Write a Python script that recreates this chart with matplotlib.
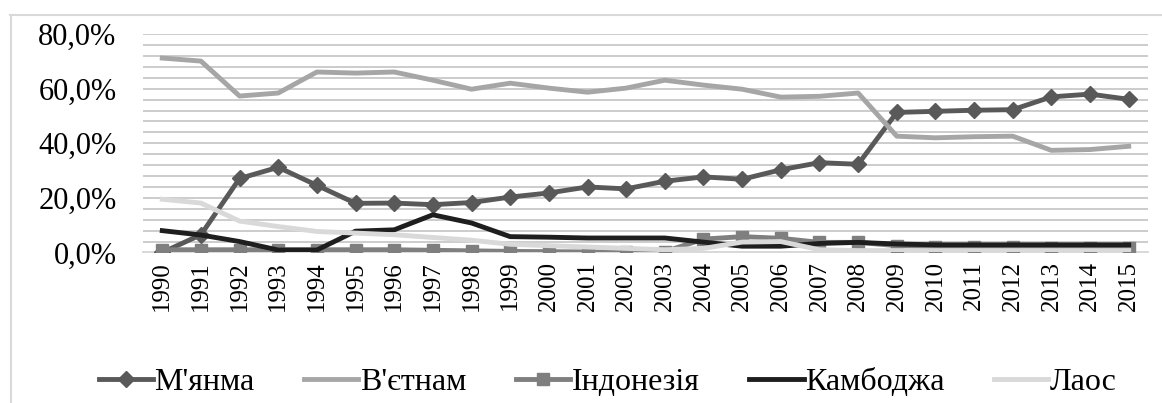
import matplotlib
matplotlib.use("Agg")
import matplotlib.pyplot as plt
from matplotlib.lines import Line2D

plt.rcParams['font.family'] = ['Liberation Serif', 'DejaVu Serif']

years = [str(y) for y in range(1990, 2016)]

# частки, %
myanmar = [0.0, 6.5, 27.1, 31.2, 24.6, 18.0, 18.1, 17.5, 18.3, 20.3, 21.8, 24.0, 23.3,
           26.1, 27.7, 26.8, 30.3, 32.9, 32.3, 51.3, 51.7, 52.1, 52.3, 57.0, 58.0, 56.1]
vietnam = [71.2, 70.1, 57.3, 58.4, 66.1, 65.7, 66.1, 63.1, 59.8, 62.0, 60.2, 58.7, 60.2,
           63.1, 61.3, 59.8, 56.9, 57.2, 58.4, 42.6, 42.0, 42.4, 42.6, 37.4, 37.7, 38.9]
indonesia = [1.0, 1.0, 1.0, 1.0, 1.0, 1.0, 1.0, 0.8, 0.6, 0.4, 0.3, 0.2, 0.2,
             0.3, 4.9, 5.8, 5.2, 3.7, 3.7, 2.5, 2.1, 2.1, 2.1, 1.5, 1.5, 1.5]
cambodia = [8.0, 6.4, 4.0, 0.9, 0.9, 7.8, 8.3, 13.8, 10.8, 5.8, 5.6, 5.3, 5.3,
            5.3, 3.8, 2.3, 2.3, 3.3, 3.7, 3.1, 2.8, 2.8, 2.8, 2.8, 2.8, 2.8]
laos = [19.5, 18.1, 11.5, 9.5, 7.7, 7.1, 6.5, 5.5, 4.5, 3.0, 2.5, 2.0, 1.5,
        1.0, 1.5, 3.8, 4.0, 1.0, 0.7, 0.7, 0.7, 0.7, 0.7, 0.7, 0.7, 0.7]

names = ["М'янма", "В'єтнам", "Індонезія", "Камбоджа", "Лаос"]

fig = plt.figure(figsize=(11.62, 4.03), dpi=100)
ax = fig.add_axes([0.123, 0.3735, 0.865, 0.542])

x = list(range(len(years)))
lw = 3.5
ax.plot(x, myanmar, color='#595959', lw=lw, marker='D', ms=8.5, label=names[0], zorder=3)
ax.plot(x, vietnam, color='#a6a6a6', lw=lw, label=names[1], zorder=3)
ax.plot(x, indonesia, color='#7f7f7f', lw=lw, marker='s', ms=8.5, label=names[2], zorder=3)
ax.plot(x, cambodia, color='#1e1e1e', lw=lw, label=names[3], zorder=3)
ax.plot(x, laos, color='#d9d9d9', lw=lw, label=names[4], zorder=3)

ax.set_xlim(-0.5, len(years) - 0.5)
ax.set_ylim(0, 80)
ax.set_xticks(x)
ax.set_xticklabels(years, rotation=90, fontsize=18)
yt = list(range(0, 81, 4))
ax.set_yticks(yt)
ax.set_yticklabels([f"{v},0%" if v % 20 == 0 else "" for v in yt], fontsize=22)
ax.tick_params(length=0)
ax.tick_params(axis='x', pad=6)
ax.tick_params(axis='y', pad=19)
ax.grid(axis='y', color='#cccccc', lw=1.4, zorder=0)
for s in ['top', 'right', 'left']:
    ax.spines[s].set_visible(False)
ax.spines['bottom'].set_color('#d9d9d9')
ax.spines['bottom'].set_linewidth(1.4)

fig.legend(loc='center', bbox_to_anchor=(0.523, 1 - 382 / 403), ncol=5, frameon=False,
           fontsize=23, handlelength=1.7, columnspacing=1.55, handletextpad=0.05)

# рамка області діаграми
fig.add_artist(Line2D([10.5 / 1162, 10.5 / 1162], [0, 1 - 15 / 403], color='#d9d9d9', lw=1.5))
fig.add_artist(Line2D([10 / 1162, 1], [1 - 15 / 403, 1 - 15 / 403], color='#d9d9d9', lw=1.5))

fig.savefig('out.png', dpi=100)
